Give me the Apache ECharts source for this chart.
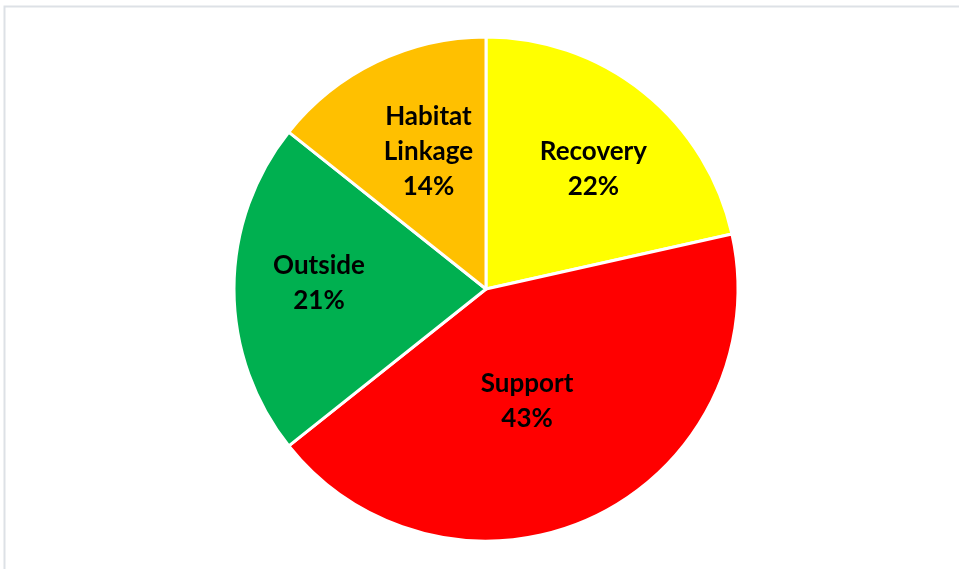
<!DOCTYPE html>
<html>
<head>
<meta charset="utf-8">
<script src="https://cdn.jsdelivr.net/npm/echarts@6/dist/echarts.min.js"></script>
<style>
html, body { margin: 0; padding: 0; background: #fff; }
#chart { width: 959px; height: 569px; }
</style>
</head>
<body>
<div id="chart"></div>
<script>
var categories = ["Recovery", "Support", "Outside", "Habitat\nLinkage"];
var values = [21.5, 42.8, 21.4, 14.3];
var colors = ["#FFFF00", "#FF0000", "#00B050", "#FFC000"];
// small nudges so each label sits where the original chart put it
var labelOffsets = [[3, 10], [-31, -39], [0, -6], [15, 13]];

var chart = echarts.init(document.getElementById('chart'), null, {renderer: 'canvas'});

var pieData = categories.map(function (name, i) {
    return {name: name, value: values[i], itemStyle: {color: colors[i]}};
});
var labelData = categories.map(function (name, i) {
    return {name: name, value: values[i], label: {offset: labelOffsets[i]}};
});

var option = {
    animation: false,
    backgroundColor: "#ffffff",
    graphic: [{
        type: "rect",
        shape: {x: 4.5, y: 6.5, width: 1000, height: 600},
        style: {fill: "none", stroke: "#dde1e6", lineWidth: 2},
        silent: true
    }],
    series: [
        {
            type: "pie",
            center: [486, 289],
            radius: [0, 252],
            startAngle: 90,
            clockwise: true,
            data: pieData,
            label: {show: false},
            labelLine: {show: false},
            itemStyle: {borderColor: "#ffffff", borderWidth: 3},
            emphasis: {disabled: true},
            silent: true
        },
        {
            type: "pie",
            center: [486, 289],
            radius: [76, 252],
            startAngle: 90,
            clockwise: true,
            data: labelData,
            percentPrecision: 0,
            itemStyle: {color: "rgba(0,0,0,0)", borderWidth: 0},
            label: {
                show: true,
                position: "inside",
                formatter: "{b}\n{d}%",
                color: "#000000",
                fontFamily: "Lato, 'Open Sans', sans-serif",
                fontWeight: "bold",
                fontSize: 26,
                lineHeight: 35
            },
            labelLine: {show: false},
            emphasis: {disabled: true},
            silent: true
        }
    ]
};
chart.setOption(option);
</script>
</body>
</html>
